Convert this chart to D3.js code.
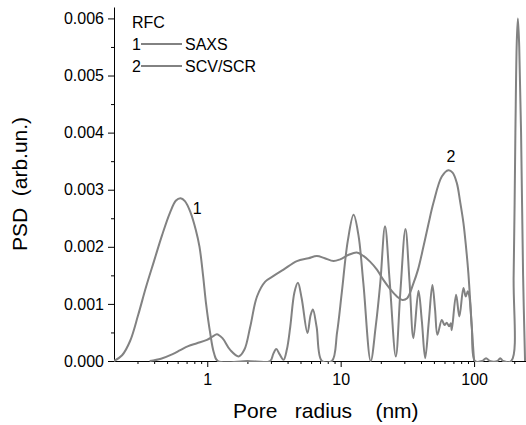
<!DOCTYPE html>
<html>
<head>
<meta charset="utf-8">
<script src="https://cdn.jsdelivr.net/npm/d3@7"></script>
<style>
  body { margin: 0; background: #fff; }
  text { font-family: Arial, "Liberation Sans", sans-serif; fill: #000; }
</style>
</head>
<body>
<div id="myChart"></div>
<script>
// series 1 (SAXS) - pore radius (nm) and PSD
const saxsX = [0.2, 0.23, 0.264, 0.303, 0.348, 0.399, 0.458, 0.526, 0.583, 0.63, 0.68, 0.75, 0.82, 0.875, 0.93, 0.98, 1.05, 1.12, 1.2,
  2.0, 2.96, 3.12, 3.29, 3.48, 3.73, 3.95, 4.19, 4.5, 4.78, 5.1, 5.64, 5.95, 6.19, 6.6, 7.23,
  8.6, 9.4, 10.2, 11.3, 12.5, 13.6, 14.8, 16.8, 18.3, 19.8, 21.5, 23.3, 25.9, 28, 30.6, 32.8, 35.1, 38.3, 40.6, 43,
  45.8, 48.7, 51, 53.1, 57.3, 60, 62.4, 65, 66.9, 68, 73.3, 77.6, 83.2, 86.6, 89.7, 92.2, 96.1, 101.6,
  115, 123, 131, 150, 157, 165, 190, 198, 204, 209, 213, 218, 225, 233, 241];
const saxsY = [0, 0.0001, 0.00035, 0.0008, 0.0013, 0.00175, 0.0022, 0.0026, 0.00281, 0.00285, 0.0028, 0.0026, 0.0023, 0.002, 0.0015, 0.001, 0.0005, 0.00015, 0,
  0, 0, 0.00012, 0.00021, 0.00012, 0.00002, 0.0002, 0.0006, 0.0012, 0.00137, 0.0011, 0.00049, 0.0008, 0.0009, 0.0006, 0,
  0, 0.0005, 0.0012, 0.0021, 0.00256, 0.0022, 0.00136, 0, 0.0006, 0.00136, 0.00236, 0.0014, 0.00008, 0.0012, 0.00231, 0.0014, 0.0004, 0.00123, 0.0007, 0.00005,
  0.0007, 0.00133, 0.0009, 0.00046, 0.00072, 0.00063, 0.00067, 0.00061, 0.00066, 0.00054, 0.00116, 0.00078, 0.00128, 0.00113, 0.00122, 0.00113, 0.0006, 0,
  0, 0.00005, 0, 0, 0.00005, 0, 0, 0.0015, 0.004, 0.0056, 0.006, 0.0055, 0.004, 0.0015, 0];

// series 2 (SCV/SCR)
const scvX = [0.37, 0.45, 0.55, 0.628, 0.72, 0.837, 0.995, 1.1, 1.18, 1.3, 1.49, 1.72, 1.9, 2.1, 2.36, 2.72, 3.14, 3.73, 4.7, 5.74, 6.63, 7.6, 8.84, 9.9,
  11.5, 13.2, 14.8, 16.6, 18.7, 20.9, 23.5, 26.4, 29, 31.5, 35.1, 38, 41.7, 45.5, 49.6, 57.3, 64.2, 69, 74.2, 78.5, 83.2, 87, 90.6, 96.1, 100];
const scvY = [0, 0.00004, 0.00012, 0.00019, 0.00026, 0.00031, 0.00037, 0.00043, 0.00047, 0.0004, 0.00019, 0.00008, 0.0002, 0.0006, 0.00113, 0.00139, 0.00149, 0.0016, 0.00175, 0.0018, 0.00184, 0.0018, 0.00175, 0.00178,
  0.00186, 0.0019, 0.00184, 0.00174, 0.0016, 0.00142, 0.00126, 0.00113, 0.00107, 0.0011, 0.00136, 0.0016, 0.002, 0.0024, 0.00277, 0.00323, 0.00334, 0.0033, 0.00312, 0.0028, 0.00242, 0.002, 0.00154, 0.0006, 0];

const xTickLabels = [1, 10, 100];
const yTickLabels = [0, 0.001, 0.002, 0.003, 0.004, 0.005, 0.006];
const legendNames = ["SAXS", "SCV/SCR"];

// set the dimensions and margins of the graph
let margin = {top: 7, right: 0, bottom: 64, left: 114},
    width = 526 - margin.left - margin.right,
    height = 425 - margin.top - margin.bottom;

let svg = d3.select("#myChart")
  .append("svg")
    .attr("width", 526)
    .attr("height", 425)
  .append("g")
    .attr("transform", `translate(${margin.left}, ${margin.top})`);

const x = d3.scaleLog().domain([0.2, 245]).range([0, width]);
const y = d3.scaleLinear().domain([0, 0.0062]).range([height, 0]);

const lineColor = "#828282";

// clip so the smoothed curves never dip under the axis
svg.append("clipPath").attr("id", "plotArea")
  .append("rect")
    .attr("x", 0).attr("y", -5)
    .attr("width", width).attr("height", height + 6);

// minor ticks
const xMinor = [0.3, 0.4, 0.5, 0.6, 0.7, 0.8, 0.9, 2, 3, 4, 5, 6, 7, 8, 9, 20, 30, 40, 50, 60, 70, 80, 90, 200];
const yMinor = [0.0005, 0.0015, 0.0025, 0.0035, 0.0045, 0.0055];

svg.append("g")
  .attr("transform", `translate(0, ${height})`)
  .call(d3.axisBottom(x).tickValues(xMinor).tickSize(3).tickFormat(""))
  .call(g => g.select(".domain").remove());

svg.append("g")
  .call(d3.axisLeft(y).tickValues(yMinor).tickSize(3).tickFormat(""))
  .call(g => g.select(".domain").remove());

// main axes
svg.append("g")
  .attr("transform", `translate(0, ${height})`)
  .call(d3.axisBottom(x).tickValues(xTickLabels).tickSize(6).tickSizeOuter(0).tickFormat(d3.format("d")))
  .call(g => g.selectAll("text").attr("font-size", 16).attr("dy", "0").attr("y", 24));

svg.append("g")
  .call(d3.axisLeft(y).tickValues(yTickLabels).tickSize(6).tickSizeOuter(0).tickFormat(d3.format(".3f")))
  .call(g => g.selectAll("text").attr("font-size", 16).attr("x", -10));

svg.selectAll(".tick text").style("font-family", "Arial, 'Liberation Sans', sans-serif");

// curves
const line = d3.line()
  .x(d => x(d[0]))
  .y(d => y(d[1]))
  .curve(d3.curveCatmullRom.alpha(0.5));

[[saxsX, saxsY], [scvX, scvY]].forEach(([xs, ys]) => {
  svg.append("path")
    .datum(xs.map((v, i) => [v, ys[i]]))
    .attr("clip-path", "url(#plotArea)")
    .attr("fill", "none")
    .attr("stroke", lineColor)
    .attr("stroke-width", 2)
    .attr("stroke-linejoin", "round")
    .attr("d", line);
});

// curve numbers
svg.append("text")
  .attr("x", x(0.78)).attr("y", y(0.00258))
  .attr("font-size", 16)
  .text("1");
svg.append("text")
  .attr("x", x(62)).attr("y", y(0.00349))
  .attr("font-size", 16)
  .text("2");

// legend
let legend = svg.append("g").attr("transform", `translate(${132 - margin.left}, ${28 - margin.top})`);
legend.append("text").attr("font-size", 16).text("RFC");
legendNames.forEach((name, i) => {
  let row = legend.append("g").attr("transform", `translate(0, ${22 + i * 22})`);
  row.append("text").attr("font-size", 16).text(i + 1);
  row.append("line")
    .attr("x1", 9).attr("x2", 50)
    .attr("y1", -6).attr("y2", -6)
    .attr("stroke", lineColor)
    .attr("stroke-width", 2);
  row.append("text").attr("x", 53).attr("font-size", 16).text(name);
});

// axis titles
svg.append("text")
  .attr("x", 233 - margin.left)
  .attr("y", 418 - margin.top)
  .attr("font-size", 21)
  .style("white-space", "pre")
  .text("Pore   radius    (nm)");

svg.append("text")
  .attr("transform", `translate(${27 - margin.left}, ${184 - margin.top}) rotate(-90)`)
  .attr("text-anchor", "middle")
  .attr("font-size", 21)
  .style("white-space", "pre")
  .text("PSD  (arb.un.)");
</script>
</body>
</html>
